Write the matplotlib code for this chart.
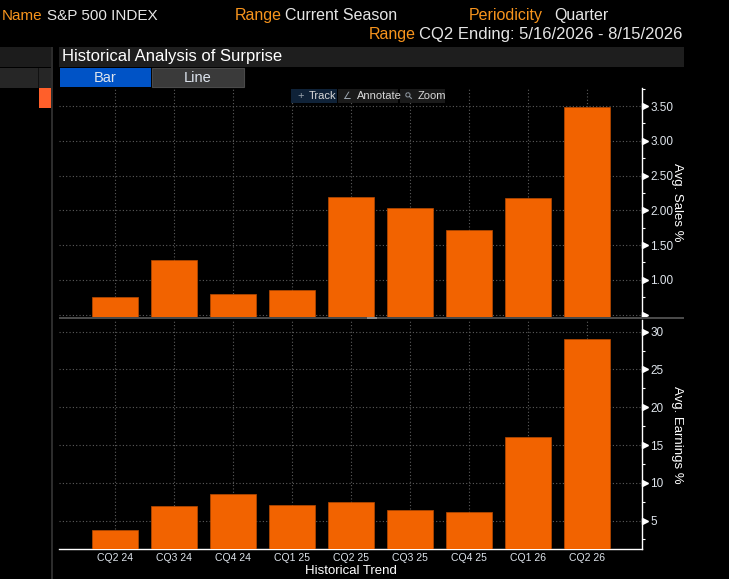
import matplotlib
matplotlib.use('Agg')
import matplotlib.pyplot as plt
from matplotlib.patches import Rectangle
from matplotlib.ticker import MultipleLocator, FixedLocator, FuncFormatter
import matplotlib.transforms as mtransforms

plt.rcParams['font.family'] = ['Liberation Sans', 'DejaVu Sans']

quarters = ['CQ2 24', 'CQ3 24', 'CQ4 24', 'CQ1 25', 'CQ2 25',
            'CQ3 25', 'CQ4 25', 'CQ1 26', 'CQ2 26']
avg_sales = [0.76, 1.29, 0.80, 0.85, 2.19, 2.04, 1.72, 2.18, 3.49]
avg_earnings = [3.7, 6.9, 8.5, 7.0, 7.4, 6.4, 6.2, 16.1, 29.0]

sales_ticks = [0.5, 1.0, 1.5, 2.0, 2.5, 3.0, 3.5]
earn_ticks = [5, 10, 15, 20, 25, 30]

BG = '#000000'
ORANGE = '#f26300'
LABEL_ORANGE = '#f7941d'
TXT = '#e6e6e6'
GRID = '#5c5c5c'

W, H = 729, 579
fig = plt.figure(figsize=(W / 100, H / 100), dpi=100, facecolor=BG)


def fx(px):
    return px / W


def fy(py):
    return 1 - py / H


def box(x0, y0, x1, y1, color, **kw):
    fig.patches.append(Rectangle((fx(x0), fy(y1)), fx(x1) - fx(x0), fy(y0) - fy(y1),
                                 transform=fig.transFigure, facecolor=color,
                                 edgecolor=kw.get('ec', 'none'), lw=kw.get('lw', 0),
                                 zorder=kw.get('z', 0)))


# --- header lines
hdr = 11.5
fig.text(fx(2), fy(15.5), 'Name', color=LABEL_ORANGE, fontsize=11, va='center')
fig.text(fx(47), fy(15.5), 'S&P 500 INDEX', color=TXT, fontsize=11, va='center')
fig.text(fx(235), fy(15.5), 'Range', color=LABEL_ORANGE, fontsize=hdr, va='center')
fig.text(fx(285), fy(15.5), 'Current Season', color=TXT, fontsize=hdr, va='center')
fig.text(fx(469), fy(15.5), 'Periodicity', color=LABEL_ORANGE, fontsize=hdr, va='center')
fig.text(fx(554), fy(15.5), 'Quarter', color=TXT, fontsize=hdr, va='center')
fig.text(fx(369), fy(34.5), 'Range', color=LABEL_ORANGE, fontsize=hdr, va='center')
fig.text(fx(419), fy(34.5), 'CQ2 Ending: 5/16/2026 - 8/15/2026', color=TXT,
         fontsize=12, va='center')

# --- left side panel
box(0, 47, 51, 67, '#1c1c1c')
box(0, 68, 51, 88, '#262626')
box(38, 68, 39, 88, '#111111', z=1)
box(39, 88, 51, 108, '#ff5f2a')
box(51, 47, 53, H, '#2c2c2c')

# --- title bar and buttons
box(59, 47, 684, 67, '#1e1e1e')
fig.text(fx(62), fy(57), 'Historical Analysis of Surprise', color='white',
         fontsize=12, va='center')
box(60, 68, 151, 87, '#0053c6')
box(152, 68, 244, 87, '#3a3a3a', ec='#4a4a4a', lw=0.8)
fig.text(fx(105.5), fy(77.5), 'Bar', color='#dde4ee', fontsize=10.5, ha='center', va='center')
fig.text(fx(198), fy(77.5), 'Line', color='#dde4ee', fontsize=10.5, ha='center', va='center')

# --- axes
ax1 = fig.add_axes([fx(59), fy(316.7), fx(642) - fx(59), fy(88) - fy(316.7)])
ax2 = fig.add_axes([fx(59), fy(549.3), fx(642) - fx(59), fy(320) - fy(549.3)])

x = list(range(len(quarters)))
panels = [
    (ax1, avg_sales, (0.47, 3.76), sales_ticks, 0.25,
     lambda v, _: '' if v < 0.75 else f'{v:.2f}', 'Avg. Sales %'),
    (ax2, avg_earnings, (1.2, 31.55), earn_ticks, 2.5,
     lambda v, _: f'{v:.0f}', 'Avg. Earnings %'),
]

for ax, vals, ylim, ticks, minor, fmt, ylabel in panels:
    ax.set_facecolor(BG)
    ax.bar(x, vals, width=0.78, color=ORANGE, edgecolor='#b84a00', linewidth=0.5, zorder=3)
    ax.set_xlim(-0.95, 8.93)
    ax.set_ylim(*ylim)
    ax.yaxis.tick_right()
    ax.yaxis.set_major_locator(FixedLocator(ticks))
    ax.yaxis.set_minor_locator(MultipleLocator(minor))
    ax.yaxis.set_major_formatter(FuncFormatter(fmt))
    ax.tick_params(axis='y', which='major', length=0, pad=6, labelsize=8.5, labelcolor='#dfe5ec')
    ax.tick_params(axis='y', which='minor', length=2, width=0.8, color='white', direction='out')
    ax.set_xticks(x)
    ax.grid(True, color=GRID, linestyle=(0, (1, 2)), linewidth=0.8, zorder=1)
    for side in ['top', 'left', 'bottom']:
        ax.spines[side].set_visible(False)
    ax.spines['right'].set_color('white')
    ax.spines['right'].set_linewidth(1)
    # tick carets on the axis
    trans = mtransforms.offset_copy(ax.get_yaxis_transform(), fig=fig, x=2.5, y=0, units='dots')
    ax.plot([1.0] * len(ticks), ticks, linestyle='none', marker='>', markersize=4,
            color='white', transform=trans, clip_on=False, zorder=5)
    ax.text(1.06, 0.5, ylabel, transform=ax.transAxes, rotation=-90, color='white',
            fontsize=9.5, ha='center', va='center')

ax1.tick_params(axis='x', length=0, labelbottom=False)
ax2.spines['bottom'].set_visible(True)
ax2.spines['bottom'].set_color('white')
ax2.spines['bottom'].set_linewidth(1)
ax2.set_xticklabels(quarters)
ax2.tick_params(axis='x', length=0, pad=3, labelsize=7.5, labelcolor='#dfe5ec')
fig.text(fx(350.5), fy(571), 'Historical Trend', color='white', fontsize=9.5,
         ha='center', va='center')

# separator between the panels
box(59, 317.3, 684, 319.3, '#4a4a4a', z=5)
box(367, 317.3, 377, 319.3, '#8a8a8a', z=6)

# chart toolbar
box(291, 89, 337, 103, '#0f2238', z=6)
box(338, 89, 398, 103, '#1a1a1a', z=6)
box(400, 89, 445, 103, '#1a1a1a', z=6)
fig.text(fx(297), fy(96), '+', color='#9aa4ae', fontsize=8, va='center', zorder=7)
fig.text(fx(309), fy(96), 'Track', color='#d8d8d8', fontsize=8, va='center', zorder=7)
fig.text(fx(342), fy(96), '∠', color='#9aa4ae', fontsize=7, va='center', zorder=7,
         family='DejaVu Sans')
fig.text(fx(357), fy(96), 'Annotate', color='#d8d8d8', fontsize=8, va='center', zorder=7)
fig.text(fx(403), fy(96), '⚲', color='#9aa4ae', fontsize=7, va='center', zorder=7,
         family='DejaVu Sans', rotation=45)
fig.text(fx(418), fy(96), 'Zoom', color='#d8d8d8', fontsize=8, va='center', zorder=7)

fig.savefig('out.png', dpi=100, facecolor=BG)
